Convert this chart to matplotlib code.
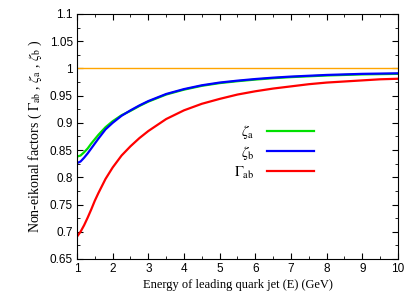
import numpy as np
import matplotlib.pyplot as plt
from matplotlib.ticker import MultipleLocator

plt.rcParams['mathtext.fontset'] = 'stix'

# Energie des führenden Quark-Jets (GeV)
E = [1.0, 1.1, 1.2, 1.3, 1.4, 1.5, 1.6, 1.8, 2.0, 2.25, 2.5, 2.75, 3.0, 3.5, 4.0,
     4.5, 5.0, 5.5, 6.0, 6.5, 7.0, 7.5, 8.0, 8.5, 9.0, 9.5, 10.0]

zeta_a = [0.838, 0.840, 0.846, 0.853, 0.862, 0.870, 0.878, 0.892, 0.903, 0.914, 0.922,
          0.931, 0.939, 0.952, 0.961, 0.968, 0.973, 0.9765, 0.9795, 0.982, 0.984, 0.9855,
          0.987, 0.988, 0.989, 0.9895, 0.990]
zeta_b = [0.826, 0.829, 0.836, 0.844, 0.853, 0.862, 0.871, 0.888, 0.900, 0.913, 0.923,
          0.932, 0.940, 0.953, 0.962, 0.969, 0.974, 0.9775, 0.9805, 0.983, 0.985, 0.9865,
          0.988, 0.989, 0.990, 0.9905, 0.991]
gamma_ab = [0.691, 0.700, 0.712, 0.726, 0.741, 0.757, 0.771, 0.797, 0.818, 0.840, 0.857,
            0.872, 0.885, 0.907, 0.923, 0.935, 0.944, 0.952, 0.958, 0.963, 0.967, 0.971,
            0.974, 0.976, 0.978, 0.980, 0.981]

fig = plt.figure(figsize=(4.15, 2.97), dpi=100)
ax = fig.add_axes([0.1855, 0.128, 0.7735, 0.825])

tickfont = 'Liberation Sans'
labfont = 'Liberation Serif'

ax.axhline(1.0, color='#ffa500', lw=1.0)
l1, = ax.plot(E, zeta_a, color='#00e000', lw=1.6)
l2, = ax.plot(E, zeta_b, color='#0000ff', lw=1.6)
l3, = ax.plot(E, gamma_ab, color='#ff0000', lw=1.6)

ax.set_xlim(1, 10)
ax.set_ylim(0.65, 1.1)
ax.xaxis.set_major_locator(MultipleLocator(1))
ax.xaxis.set_minor_locator(MultipleLocator(0.5))
ax.yaxis.set_minor_locator(MultipleLocator(0.025))
ax.set_yticks(np.arange(0.65, 1.101, 0.05))
ax.set_yticklabels(['0.65', '0.7', '0.75', '0.8', '0.85', '0.9', '0.95', '1', '1.05', '1.1'])
ax.tick_params(which='both', direction='in', top=True, right=True, labelsize=8.5, pad=3)
ax.tick_params(which='major', length=4)
ax.tick_params(which='minor', length=2)
for t in ax.get_xticklabels() + ax.get_yticklabels():
    t.set_fontfamily(tickfont)

ax.set_xlabel('Energy of leading quark jet (E) (GeV)', fontsize=9, family=labfont, labelpad=3)
ax.set_ylabel(r'Non-eikonal factors ( $\Gamma_{\rm ab}$ , $\zeta_{\rm a}$ , $\zeta_{\rm b}$ )',
              fontsize=10, family=labfont, labelpad=4)

leg = ax.legend([l1, l2, l3],
                [r'$\zeta_{\rm a}$', r'$\zeta_{\rm b}$', r'$\Gamma_{\rm ab}$'],
                loc='upper right', bbox_to_anchor=(0.779, 0.61), frameon=False,
                markerfirst=False, handlelength=3.2, handletextpad=0.9,
                labelspacing=0.2, fontsize=10.5)
for t in leg.get_texts():
    t.set_ha('right')

fig.savefig('out.png', dpi=100)
